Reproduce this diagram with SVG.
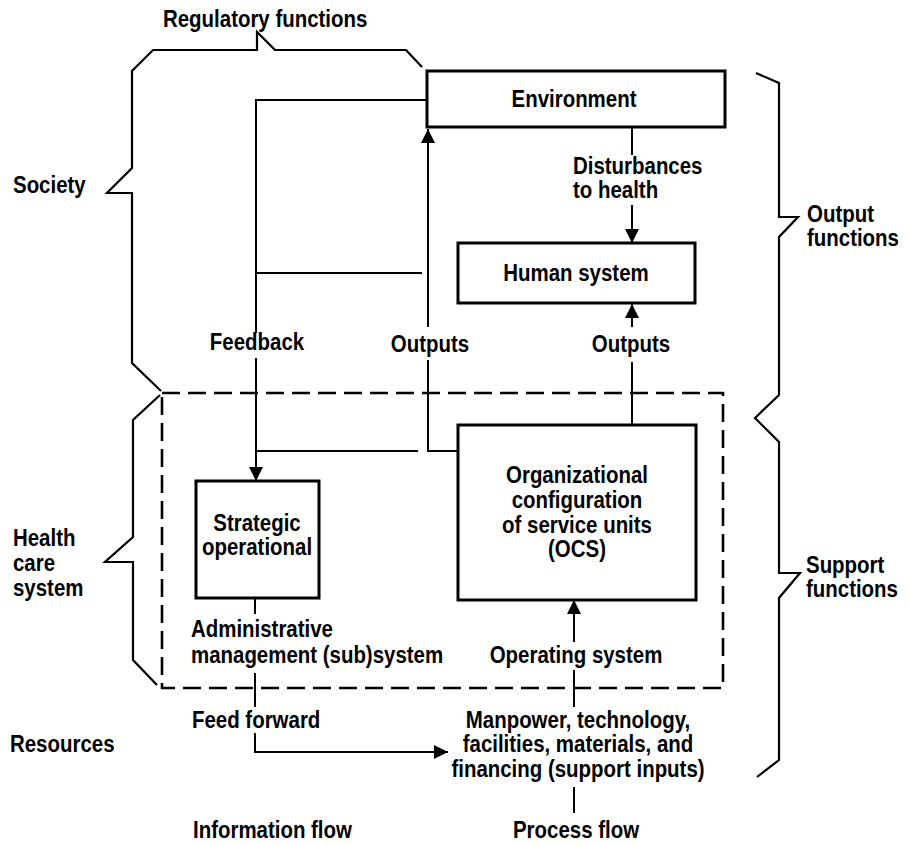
<svg xmlns="http://www.w3.org/2000/svg" width="909" height="845" viewBox="0 0 909 845">
<style>
text{font-family:"Liberation Sans",Arial,sans-serif;font-weight:bold;font-size:23.5px;fill:#000}
.c{text-anchor:middle}
.box{fill:none;stroke:#000;stroke-width:3}
.ln{fill:none;stroke:#000;stroke-width:2}
.br{fill:none;stroke:#000;stroke-width:2.2;stroke-linejoin:miter}
.dash{fill:none;stroke:#000;stroke-width:2.6;stroke-dasharray:18 8}
</style>
<defs>
<marker id="ah" markerUnits="userSpaceOnUse" markerWidth="14" markerHeight="14" refX="14" refY="7" orient="auto">
<path d="M0,0 L14,7 L0,14 z" fill="#000"/>
</marker>
</defs>
<rect width="909" height="845" fill="#fff"/>

<g id="braces">
<path class="br" d="M422 67 L406 50 H275 L257 32 V50 H153 L132 71 V168 L107 193 H132 V363 L161 391"/>
<path class="br" d="M160 395 L133 420 V537 L105 562 H133 V660 L157 685"/>
<path class="br" d="M756 73 L779 83 V217 H798 L779 237 V395 L755 418 L779 442 V573 H800 L779 598 V760 L757 777"/>
</g>

<g id="health-care-system-boundary">
<rect class="dash" x="162" y="393" width="561" height="295"/>
</g>

<g id="connectors">
<line class="ln" x1="632" y1="127" x2="632" y2="155"/>
<line class="ln" x1="632" y1="205" x2="632" y2="243" marker-end="url(#ah)"/>
<line class="ln" x1="632" y1="425" x2="632" y2="362"/>
<line class="ln" x1="632" y1="327" x2="632" y2="304" marker-end="url(#ah)"/>
<path class="ln" d="M458 451 H428 V360"/>
<line class="ln" x1="428" y1="327" x2="428" y2="129" marker-end="url(#ah)"/>
<path class="ln" d="M427 100 H256 V333"/>
<line class="ln" x1="256" y1="358" x2="256" y2="481" marker-end="url(#ah)"/>
<line class="ln" x1="256" y1="273" x2="422" y2="273"/>
<line class="ln" x1="256" y1="451" x2="418" y2="451"/>
<line class="ln" x1="255" y1="598" x2="255" y2="614"/>
<line class="ln" x1="255" y1="673" x2="255" y2="707"/>
<path class="ln" d="M255 733 V752 H448" marker-end="url(#ah)"/>
<line class="ln" x1="574" y1="642" x2="574" y2="600" marker-end="url(#ah)"/>
<line class="ln" x1="574" y1="670" x2="574" y2="707"/>
<line class="ln" x1="574" y1="787" x2="574" y2="813"/>
</g>

<g id="environment">
<rect class="box" x="427" y="71" width="298" height="56"/>
<text class="c" transform="translate(574,107) scale(0.87,1)">Environment</text>
</g>
<g id="human-system">
<rect class="box" x="458" y="243" width="237" height="60"/>
<text class="c" transform="translate(576,281) scale(0.87,1)">Human system</text>
</g>
<g id="ocs">
<rect class="box" x="458" y="425" width="238" height="175"/>
<text class="c" transform="translate(577,483) scale(0.87,1)">Organizational</text>
<text class="c" transform="translate(577,508) scale(0.87,1)">configuration</text>
<text class="c" transform="translate(577,533) scale(0.87,1)">of service units</text>
<text class="c" transform="translate(577,557) scale(0.87,1)">(OCS)</text>
</g>
<g id="strategic">
<rect class="box" x="196" y="481" width="123" height="117"/>
<text class="c" transform="translate(257,531) scale(0.87,1)">Strategic</text>
<text class="c" transform="translate(257,555) scale(0.87,1)">operational</text>
</g>

<g id="labels">
<text transform="translate(163,27) scale(0.87,1)">Regulatory functions</text>
<text transform="translate(13,193) scale(0.87,1)">Society</text>
<text transform="translate(13,546) scale(0.87,1)">Health</text>
<text transform="translate(13,571) scale(0.87,1)">care</text>
<text transform="translate(13,596) scale(0.87,1)">system</text>
<text transform="translate(10,752) scale(0.87,1)">Resources</text>
<text transform="translate(193,838) scale(0.87,1)">Information flow</text>
<text class="c" transform="translate(576,838) scale(0.87,1)">Process flow</text>
<text transform="translate(807,222) scale(0.87,1)">Output</text>
<text transform="translate(807,246) scale(0.87,1)">functions</text>
<text transform="translate(806,573) scale(0.87,1)">Support</text>
<text transform="translate(806,597) scale(0.87,1)">functions</text>
<text transform="translate(573,174) scale(0.87,1)">Disturbances</text>
<text transform="translate(573,198) scale(0.87,1)">to health</text>
<text class="c" transform="translate(257,350) scale(0.87,1)">Feedback</text>
<text class="c" transform="translate(430,352) scale(0.87,1)">Outputs</text>
<text class="c" transform="translate(631,352) scale(0.87,1)">Outputs</text>
<text transform="translate(191,637) scale(0.87,1)">Administrative</text>
<text transform="translate(191,663) scale(0.87,1)">management (sub)system</text>
<text class="c" transform="translate(576,663) scale(0.87,1)">Operating system</text>
<text transform="translate(192,728) scale(0.87,1)">Feed forward</text>
<text class="c" transform="translate(578,728) scale(0.87,1)">Manpower, technology,</text>
<text class="c" transform="translate(578,752) scale(0.87,1)">facilities, materials, and</text>
<text class="c" transform="translate(578,777) scale(0.87,1)">financing (support inputs)</text>
</g>
</svg>
